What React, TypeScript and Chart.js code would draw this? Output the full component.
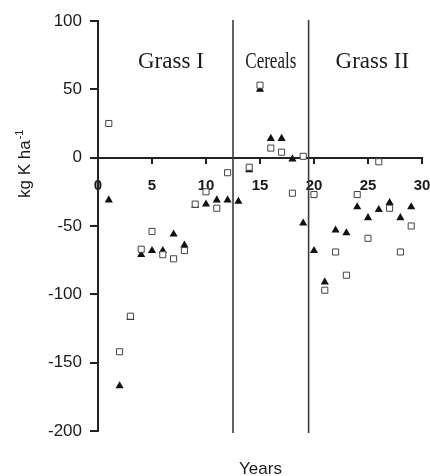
import React, { useEffect, useRef } from 'react';
import { Chart, registerables } from 'chart.js';
Chart.register(...registerables);

// Open squares series
const squareYears = [1, 2, 3, 4, 5, 6, 7, 8, 9, 10, 11, 12, 14, 15, 16, 17, 18, 19, 20, 21, 22, 23, 24, 25, 26, 27, 28, 29];
const squareValues = [25, -142, -116, -67, -54, -71, -74, -68, -34, -25, -37, -11, -7, 53, 7, 4, -26, 1, -27, -97, -69, -86, -27, -59, -3, -37, -69, -50];
// Filled triangles series
const triangleYears = [1, 2, 3, 4, 5, 6, 7, 8, 9, 10, 11, 12, 13, 14, 15, 16, 17, 18, 19, 20, 21, 22, 23, 24, 25, 26, 27, 28, 29];
const triangleValues = [-31, -167, -117, -71, -68, -68, -56, -64, -35, -34, -31, -31, -32, -9, 50, 14, 14, -1, -48, -68, -91, -53, -55, -36, -44, -38, -33, -44, -36];

const xMin = 0, xMax = 30, xStep = 5;
const yMin = -200, yMax = 100, yStep = 50;
const phaseBoundaries = [12.5, 19.5];
const phaseNames = ['Grass I', 'Cereals', 'Grass II'];
const phaseLabelCenters = [6.75, 16, 25.4];
const xTitle = 'Years';
const yTitle = 'kg K ha';
const yTitleSup = '-1';

const overlay = {
  id: 'overlay',
  beforeDatasetsDraw(chart: any) {
    const { ctx, scales } = chart;
    const x = scales.x, y = scales.y;
    ctx.save();
    const top = y.getPixelForValue(yMax);
    const bottom = y.getPixelForValue(yMin);
    ctx.strokeStyle = '#3a3a3a';
    ctx.lineWidth = 1.6;
    phaseBoundaries.forEach((b) => {
      const px = x.getPixelForValue(b);
      ctx.beginPath();
      ctx.moveTo(px, top - 1);
      ctx.lineTo(px, bottom + 2);
      ctx.stroke();
    });
    ctx.fillStyle = '#1a1a1a';
    ctx.textAlign = 'center';
    ctx.textBaseline = 'alphabetic';
    ctx.font = '23px "Liberation Serif", "Times New Roman", serif';
    phaseNames.forEach((n, i) => {
      const px = x.getPixelForValue(phaseLabelCenters[i]);
      const py = top + 47;
      if (n === 'Cereals') {
        ctx.save();
        ctx.translate(px, py);
        ctx.scale(0.74, 1);
        ctx.fillText(n, 0, 0);
        ctx.restore();
      } else {
        ctx.fillText(n, px, py);
      }
    });
    ctx.restore();
  },
  afterDraw(chart: any) {
    const { ctx } = chart;
    ctx.save();
    ctx.fillStyle = '#1a1a1a';
    ctx.font = '17px "Liberation Sans", Arial, sans-serif';
    ctx.textAlign = 'center';
    ctx.textBaseline = 'alphabetic';
    ctx.fillText(xTitle, 260.5, 474);
    ctx.translate(30, 198);
    ctx.rotate(-Math.PI / 2);
    ctx.textAlign = 'left';
    ctx.fillText(yTitle, 0, 0);
    const w = ctx.measureText(yTitle).width;
    ctx.font = '11px "Liberation Sans", Arial, sans-serif';
    ctx.fillText(yTitleSup, w + 1, -7);
    ctx.restore();
  },
};

export default function App() {
  const ref = useRef<HTMLCanvasElement>(null);
  useEffect(() => {
    if (!ref.current) return;
    const chart = new Chart(ref.current, {
      type: 'scatter',
      data: {
        datasets: [
          {
            label: 'squares',
            data: squareYears.map((yr, i) => ({ x: yr, y: squareValues[i] })),
            pointStyle: 'rect',
            pointRadius: 4.3,
            backgroundColor: '#ffffff',
            borderColor: '#444444',
            borderWidth: 1,
          },
          {
            label: 'triangles',
            data: triangleYears.map((yr, i) => ({ x: yr, y: triangleValues[i] })),
            pointStyle: 'triangle',
            pointRadius: 4.7,
            backgroundColor: '#111111',
            borderColor: '#111111',
            borderWidth: 0,
          },
        ],
      },
      options: {
        responsive: false,
        animation: false,
        devicePixelRatio: 1,
        layout: { padding: { left: 0, top: 21, right: 8, bottom: 45 } },
        plugins: { legend: { display: false }, tooltip: { enabled: false } },
        scales: {
          x: {
            type: 'linear',
            min: xMin,
            max: xMax,
            position: { y: 0 } as any,
            afterFit: (s: any) => { s.paddingRight = 0; s.paddingLeft = 0; },
            ticks: {
              stepSize: xStep,
              color: '#1a1a1a',
              padding: 14,
              maxRotation: 0,
              font: { family: '"Liberation Sans", Arial, sans-serif', size: 15, weight: 'bold' },
            },
            grid: { drawOnChartArea: false, tickLength: 5, color: '#222', lineWidth: 2 },
            border: { color: '#222', width: 2 },
          },
          y: {
            type: 'linear',
            min: yMin,
            max: yMax,
            position: 'left',
            afterFit: (s: any) => { s.width = 98; },
            ticks: {
              stepSize: yStep,
              color: '#1a1a1a',
              padding: 8,
              font: { family: '"Liberation Sans", Arial, sans-serif', size: 17 },
            },
            grid: { drawOnChartArea: false, tickLength: 8, color: '#222', lineWidth: 2 },
            border: { color: '#222', width: 2 },
          },
        },
      },
      plugins: [overlay],
    });
    return () => chart.destroy();
  }, []);
  return (
    <div style={{ position: 'absolute', left: 0, top: 0, width: 430, height: 476 }}>
      <canvas ref={ref} width={430} height={476} style={{ display: 'block' }} />
    </div>
  );
}
